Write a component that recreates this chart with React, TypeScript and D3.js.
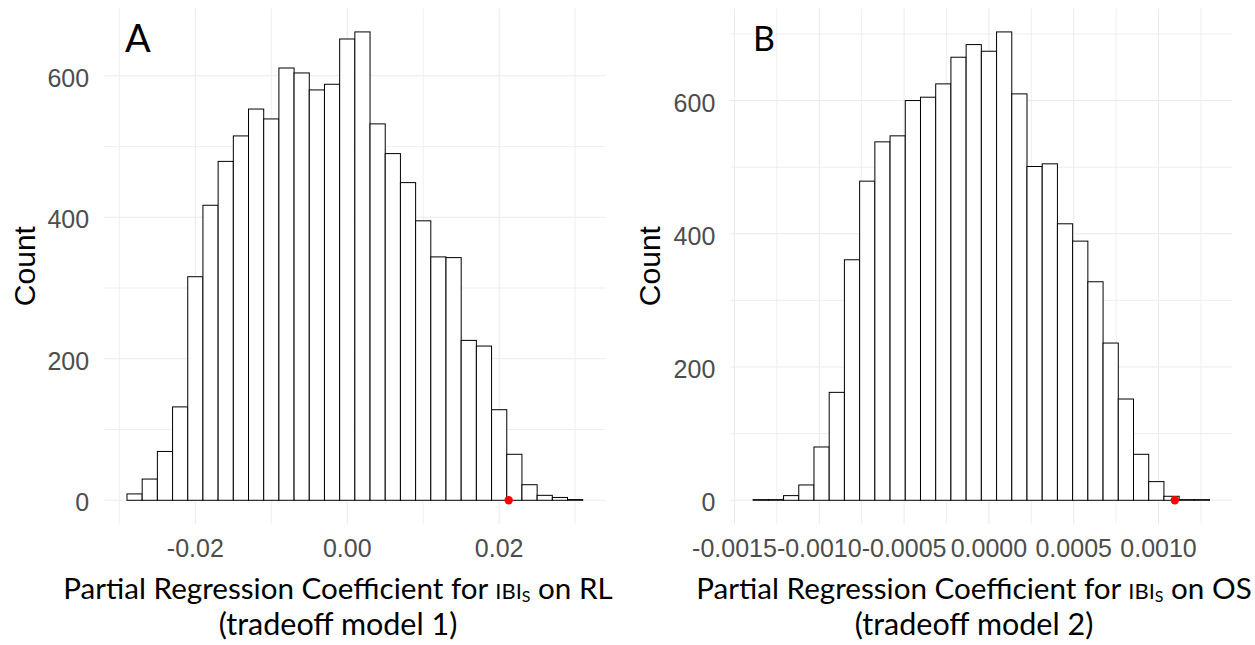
import React from "react";
import * as d3 from "d3";

// ---------- Data ----------
const binStartA = -0.029;
const binWidthA = 0.002;
const countsA = [9, 30, 69, 132, 316, 417, 479, 515, 553, 539, 611, 604, 580, 588, 652, 662, 532, 490, 449, 395, 344, 343, 226, 218, 128, 65, 22, 7, 4, 1];
const observedA = 0.02125;
const xMajorA = [-0.02, 0, 0.02];
const xMajorLabelsA = ["-0.02", "0.00", "0.02"];
const xMinorA = [-0.03, -0.01, 0.01, 0.03];

const binStartB = -0.00139;
const binWidthB = 0.0000897;
const countsB = [1, 1, 7, 23, 80, 162, 361, 479, 538, 547, 600, 605, 625, 665, 684, 674, 703, 610, 501, 505, 415, 389, 328, 236, 152, 69, 28, 6, 1, 1];
const observedB = 0.001096;
const xMajorB = [-0.0015, -0.001, -0.0005, 0, 0.0005, 0.001];
const xMajorLabelsB = ["-0.0015", "-0.0010", "-0.0005", "0.0000", "0.0005", "0.0010"];
const xMinorB = [-0.00125, -0.00075, -0.00025, 0.00025, 0.00075, 0.00125];

const yMajor = [0, 200, 400, 600];
const yMajorLabels = ["0", "200", "400", "600"];
const yMinorA = [100, 300, 500];
const yMinorB = [100, 300, 500, 700];

const W = 1255;
const H = 645;
const TOP = 8.5;
const BOTTOM = 523.7;
const GRID = "#EBEBEB";
const TICK = "#4D4D4D";
const TITLE_FONT = "Lato, 'Open Sans', sans-serif";
const AXIS_FONT = "'Liberation Sans', Arial, sans-serif";

type PanelProps = {
  left: number;
  right: number;
  binStart: number;
  binWidth: number;
  counts: number[];
  observed: number;
  xMajor: number[];
  xMajorLabels: string[];
  xMinor: number[];
  yMinor: number[];
  letter: string;
  letterX: number;
  letterY: number;
  letterSize: number;
  countX: number;
  titleX: number;
  titleEnd: string;
  titleSub: string;
};

function Panel(p: PanelProps) {
  const n = p.counts.length;
  const lo = p.binStart;
  const hi = p.binStart + n * p.binWidth;
  const span = hi - lo;
  const x = d3.scaleLinear().domain([lo - 0.05 * span, hi + 0.05 * span]).range([p.left, p.right]);
  const maxC = d3.max(p.counts) as number;
  const y = d3.scaleLinear().domain([-0.05 * maxC, 1.05 * maxC]).range([BOTTOM, TOP]);
  const edges = p.counts.map((_, i) => p.binStart + i * p.binWidth);
  const midY = (TOP + BOTTOM) / 2;

  return (
    <g>
      {/* minor grid */}
      {p.xMinor.map((v, i) => (
        <line key={"xm" + i} x1={x(v)} x2={x(v)} y1={TOP} y2={BOTTOM} stroke={GRID} strokeWidth={0.8} />
      ))}
      {p.yMinor.map((v, i) => (
        <line key={"ym" + i} x1={p.left} x2={p.right} y1={y(v)} y2={y(v)} stroke={GRID} strokeWidth={0.8} />
      ))}
      {/* major grid */}
      {p.xMajor.map((v, i) => (
        <line key={"xM" + i} x1={x(v)} x2={x(v)} y1={TOP} y2={BOTTOM} stroke={GRID} strokeWidth={1.1} />
      ))}
      {yMajor.map((v, i) => (
        <line key={"yM" + i} x1={p.left} x2={p.right} y1={y(v)} y2={y(v)} stroke={GRID} strokeWidth={1.1} />
      ))}
      {/* bars */}
      {edges.map((e, i) => (
        <rect
          key={"b" + i}
          x={x(e)}
          width={x(e + p.binWidth) - x(e)}
          y={y(p.counts[i])}
          height={y(0) - y(p.counts[i])}
          fill="#FFFFFF"
          stroke="#000000"
          strokeWidth={1}
        />
      ))}
      {/* observed point */}
      <circle cx={x(p.observed)} cy={y(0)} r={4.2} fill="#FF0000" />
      {/* y tick labels */}
      {yMajor.map((v, i) => (
        <text key={"yl" + i} x={p.left - 15} y={y(v) + 11} textAnchor="end" fontFamily={AXIS_FONT} fontSize={25} fill={TICK}>
          {yMajorLabels[i]}
        </text>
      ))}
      {/* x tick labels */}
      {p.xMajor.map((v, i) => (
        <text key={"xl" + i} x={x(v)} y={557.3} textAnchor="middle" fontFamily={AXIS_FONT} fontSize={25} fill={TICK}>
          {p.xMajorLabels[i]}
        </text>
      ))}
      {/* y axis title */}
      <text
        transform={`translate(${p.countX},${midY}) rotate(-90)`}
        textAnchor="middle"
        fontFamily={AXIS_FONT}
        fontSize={30}
        fill="#000"
      >
        Count
      </text>
      {/* panel letter */}
      <text x={p.letterX} y={p.letterY} fontFamily={TITLE_FONT} fontSize={p.letterSize} fill="#000">
        {p.letter}
      </text>
      {/* x axis title */}
      <text x={p.titleX} y={599} textAnchor="middle" fontFamily={TITLE_FONT} fontSize={29.6} fill="#000">
        Partial Regression Coefficient for{" "}
        <tspan fontSize={22}>IBI</tspan>
        <tspan fontSize={16} dy={3}>S</tspan>
        <tspan dy={-3}>{p.titleEnd}</tspan>
      </text>
      <text x={p.titleX} y={635} textAnchor="middle" fontFamily={TITLE_FONT} fontSize={30.5} fill="#000">
        {p.titleSub}
      </text>
    </g>
  );
}

export default function App() {
  return (
    <svg width={W} height={H} style={{ position: "absolute", left: 0, top: 0, background: "#fff" }}>
      <rect x={0} y={0} width={W} height={H} fill="#fff" />
      <Panel
        left={104.2}
        right={605.5}
        binStart={binStartA}
        binWidth={binWidthA}
        counts={countsA}
        observed={observedA}
        xMajor={xMajorA}
        xMajorLabels={xMajorLabelsA}
        xMinor={xMinorA}
        yMinor={yMinorA}
        letter="A"
        letterX={125}
        letterY={52.3}
        letterSize={38}
        countX={35}
        titleX={338}
        titleEnd=" on RL"
        titleSub="(tradeoff model 1)"
      />
      <Panel
        left={730.3}
        right={1232.4}
        binStart={binStartB}
        binWidth={binWidthB}
        counts={countsB}
        observed={observedB}
        xMajor={xMajorB}
        xMajorLabels={xMajorLabelsB}
        xMinor={xMinorB}
        yMinor={yMinorB}
        letter="B"
        letterX={753}
        letterY={50.7}
        letterSize={34}
        countX={660}
        titleX={974}
        titleEnd=" on OS"
        titleSub="(tradeoff model 2)"
      />
    </svg>
  );
}
